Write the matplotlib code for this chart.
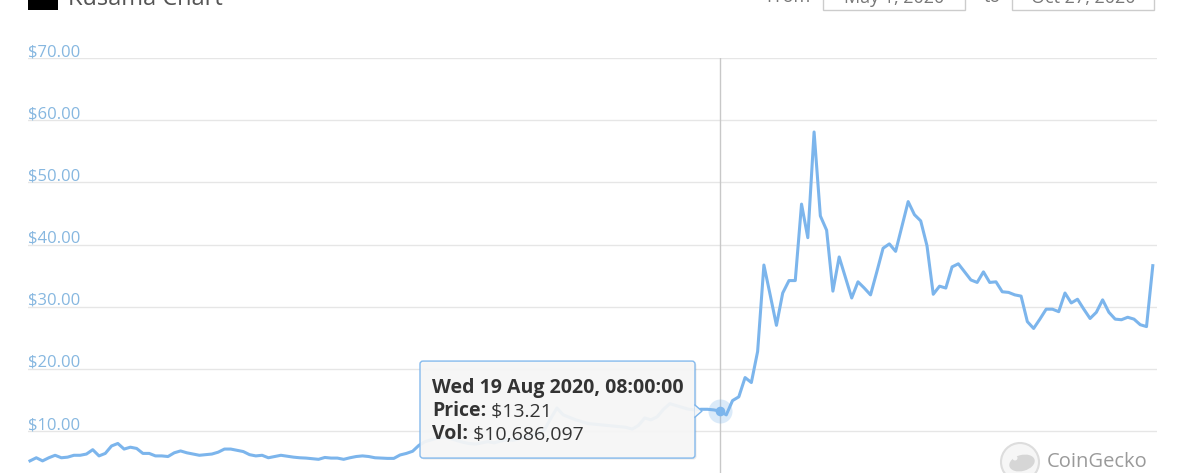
import numpy as np
import pandas as pd
import matplotlib
matplotlib.use('Agg')
import matplotlib.pyplot as plt
import matplotlib.dates as mdates
from matplotlib.patches import FancyBboxPatch, Polygon, Rectangle, Circle, Ellipse

plt.rcParams['font.family'] = ['Open Sans', 'DejaVu Sans']

# daily KSM price, 1 May 2020 .. 27 Oct 2020
start_date = '2020-05-01'
end_date = '2020-10-27'
prices = [
    5.2, 5.7, 5.2, 5.7, 6.1, 5.7, 5.8, 6.1, 6.1, 6.3,
    7.0, 6.0, 6.4, 7.6, 8.0, 7.1, 7.4, 7.2, 6.4, 6.4,
    6.0, 6.0, 5.9, 6.5, 6.8, 6.5, 6.3, 6.1, 6.2, 6.3,
    6.6, 7.1, 7.1, 6.9, 6.7, 6.2, 6.0, 6.1, 5.7, 5.9,
    6.1, 5.95, 5.8, 5.7, 5.65, 5.55, 5.45, 5.75, 5.65, 5.65,
    5.45, 5.7, 5.9, 6.0, 5.9, 5.7, 5.65, 5.6, 5.6, 6.15,
    6.4, 6.75, 7.7, 8.3, 8.6, 8.9, 9.0, 8.8, 8.5, 8.2,
    8.0, 7.9, 8.1, 8.3, 8.1, 8.4, 8.6, 8.5, 8.8, 9.0,
    9.3, 9.6, 10.2, 12.0, 13.7, 12.6, 12.2, 11.8, 11.5, 11.2,
    11.1, 11.0, 10.9, 10.8, 10.7, 10.6, 10.3, 10.9, 12.1, 11.8,
    12.3, 13.5, 14.4, 14.1, 13.8, 13.5, 13.4, 13.5, 13.5, 13.4,
    13.21, 12.6, 14.9, 15.5, 18.6, 17.8, 22.8, 36.7, 31.9, 27.0,
    32.2, 34.2, 34.2, 46.5, 41.1, 58.1, 44.6, 42.3, 32.5, 38.0,
    34.7, 31.4, 34.0, 33.0, 31.9, 35.6, 39.4, 40.1, 38.9, 42.9,
    46.9, 44.8, 43.8, 39.8, 32.0, 33.3, 33.0, 36.4, 36.9, 35.6,
    34.3, 33.9, 35.6, 33.9, 34.0, 32.4, 32.3, 31.9, 31.7, 27.6,
    26.5, 28.0, 29.6, 29.6, 29.2, 32.2, 30.6, 31.2, 29.6, 28.1,
    29.1, 31.1, 29.1, 28.0, 27.9, 28.3, 28.0, 27.1, 26.8, 36.6,
]
y_ticks = [10, 20, 30, 40, 50, 60, 70]
hover_date = '2020-08-19'
hover_volume = 10686097

dates = pd.date_range(start_date, end_date, freq='D')
xs = mdates.date2num(dates)
hover_idx = list(dates).index(pd.Timestamp(hover_date))

W, H = 1179, 473
line_color = '#7cb5ec'

fig = plt.figure(figsize=(W / 100, H / 100), dpi=100)
fig.patch.set_facecolor('white')

ax = fig.add_axes([28 / W, 0, (1157 - 28) / W, (473 - 58) / H])
ax.plot(xs, prices, color=line_color, lw=2.2, solid_joinstyle='round', zorder=3)
ax.set_xlim(xs[0] - 0.32, xs[-1] + 0.67)
ax.set_ylim(3.25, 70)
ax.set_yticks(y_ticks)
ax.grid(axis='y', color='#e6e6e6', lw=1)
ax.set_axisbelow(True)
ax.tick_params(left=False, bottom=False, labelleft=False, labelbottom=False)
for s in ax.spines.values():
    s.set_visible(False)

for v in y_ticks:
    ax.annotate(f'${v:.2f}', xy=(0, v), xycoords=('axes fraction', 'data'),
                xytext=(0, 2), textcoords='offset pixels', va='baseline', ha='left',
                fontsize=12, color='#86b7e0', annotation_clip=False)

# crosshair + hover marker
hx, hy = xs[hover_idx], prices[hover_idx]
ax.axvline(hx, color='#c8c8c8', lw=1, zorder=2)
ax.scatter([hx], [hy], s=300, color=line_color, alpha=0.28, lw=0, zorder=4)
ax.scatter([hx], [hy], s=48, color=line_color, lw=0, zorder=5)

# overlay in pixel coords (y down)
ov = fig.add_axes([0, 0, 1, 1], zorder=10)
ov.set_xlim(0, W)
ov.set_ylim(H, 0)
ov.axis('off')
ov.patch.set_alpha(0)

px, py_up = ax.transData.transform((hx, hy))
py = H - py_up

# tooltip
bx0, bx1 = px - 300, px - 25
by0, by1 = py - 50, py + 47
shadow = FancyBboxPatch((bx0 + 1.5, by0 + 1.5), bx1 - bx0, by1 - by0,
                        boxstyle='round,pad=0,rounding_size=3',
                        fc='#000000', ec='none', alpha=0.08)
ov.add_patch(shadow)
box = FancyBboxPatch((bx0, by0), bx1 - bx0, by1 - by0,
                     boxstyle='round,pad=0,rounding_size=3',
                     fc='#f7f7f7', ec=line_color, lw=1, alpha=0.93)
ov.add_patch(box)
ov.add_patch(Polygon([(bx1 - 0.5, py - 6), (bx1 + 7, py), (bx1 - 0.5, py + 6)],
                     closed=True, fc='#f7f7f7', ec='none', alpha=0.95))
ov.plot([bx1, bx1 + 7, bx1], [py - 6, py, py + 6], color=line_color, lw=1)

tx = bx0 + 12
txt_color = '#333333'
ov.text(tx, py - 18, dates[hover_idx].strftime('%a %d %b %Y, 08:00:00'),
        fontsize=14, fontweight='bold', color=txt_color, va='baseline')
t2 = ov.text(tx, py + 5, 'Price:', fontsize=14, fontweight='bold',
             color=txt_color, va='baseline')
ov.annotate(f' ${hy:.2f}', xy=(1, 0), xycoords=t2, va='bottom', ha='left',
            fontsize=14, color=txt_color)
t3 = ov.text(tx, py + 28, 'Vol:', fontsize=14, fontweight='bold',
             color=txt_color, va='baseline')
ov.annotate(f' ${hover_volume:,}', xy=(1, 0), xycoords=t3, va='bottom', ha='left',
            fontsize=14, color=txt_color)

# header (cut off at the top, as in the source screenshot)
ov.add_patch(Rectangle((28, -20), 30, 30, fc='black', ec='none'))
ov.text(68, 5, 'Kusama Chart', fontsize=17, color='#555555', va='baseline')
ov.text(766, 2, 'From', fontsize=13, color='#777777', va='baseline')
ov.add_patch(Rectangle((823, -20), 142, 30, fc='white', ec='#cccccc', lw=1))
ov.text(894, 3, 'May 1, 2020', fontsize=13, color='#777777', va='baseline', ha='center')
ov.text(984, 2, 'to', fontsize=13, color='#777777', va='baseline')
ov.add_patch(Rectangle((1012, -20), 142, 30, fc='white', ec='#cccccc', lw=1))
ov.text(1083, 3, 'Oct 27, 2020', fontsize=13, color='#777777', va='baseline', ha='center')

# watermark
ov.add_patch(Circle((1020, 462), 19, fc='#f6f6f6', ec='#dddddd', lw=1.5))
ov.add_patch(Ellipse((1022, 463), 26, 16, angle=-15, fc='#d6d6d6', ec='none'))
ov.add_patch(Circle((1015, 458), 2.5, fc='#f6f6f6', ec='none'))
ov.text(1047, 462, 'CoinGecko', fontsize=14.5, color='#9a9a9a', va='center', ha='left')

fig.savefig('out.png', dpi=100)
